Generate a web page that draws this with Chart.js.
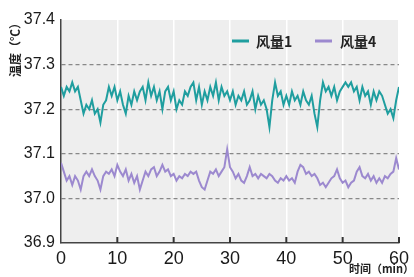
<!DOCTYPE html>
<html><head><meta charset="utf-8">
<script src="https://cdn.jsdelivr.net/npm/chart.js@4/dist/chart.umd.min.js"></script>
<style>html,body{margin:0;padding:0;background:#fff;}#wrap{width:414px;height:277px;position:relative;}</style>
</head><body><div id="wrap"><canvas id="c" width="414" height="277"></canvas></div>
<script>
const times = [];
for (let i = 0; i <= 120; i++) times.push(i / 2);
const seriesNames = ["风量1", "风量4"];
const flow1 = [37.25,37.23,37.25,37.24,37.26,37.24,37.25,37.22,37.19,37.21,37.20,37.22,37.19,37.20,37.17,37.21,37.22,37.25,37.23,37.25,
37.22,37.24,37.21,37.19,37.23,37.21,37.24,37.22,37.24,37.25,37.22,37.26,37.23,37.25,37.22,37.24,37.20,37.24,37.25,37.22,
37.24,37.20,37.22,37.21,37.24,37.23,37.25,37.26,37.22,37.25,37.21,37.24,37.22,37.25,37.23,37.26,37.22,37.25,37.23,37.24,
37.22,37.24,37.21,37.23,37.22,37.24,37.21,37.22,37.24,37.20,37.23,37.21,37.22,37.20,37.16,37.22,37.26,37.23,37.24,37.21,
37.23,37.21,37.24,37.22,37.23,37.21,37.24,37.22,37.21,37.23,37.19,37.16,37.22,37.26,37.24,37.25,37.23,37.25,37.22,37.24,
37.25,37.26,37.25,37.26,37.24,37.25,37.22,37.25,37.23,37.24,37.21,37.24,37.22,37.24,37.23,37.21,37.19,37.20,37.18,37.22,37.25];
const flow4 = [37.08,37.06,37.04,37.05,37.03,37.05,37.04,37.02,37.05,37.06,37.05,37.065,37.05,37.04,37.02,37.05,37.06,37.055,37.065,37.05,
37.075,37.06,37.05,37.065,37.04,37.055,37.035,37.05,37.02,37.04,37.06,37.05,37.065,37.07,37.05,37.06,37.075,37.06,37.065,37.05,
37.055,37.04,37.05,37.045,37.055,37.05,37.06,37.055,37.06,37.04,37.025,37.02,37.04,37.06,37.055,37.065,37.05,37.06,37.07,37.11,
37.07,37.06,37.045,37.055,37.04,37.035,37.05,37.07,37.05,37.055,37.045,37.055,37.05,37.045,37.055,37.05,37.04,37.035,37.045,37.04,
37.05,37.04,37.045,37.035,37.06,37.075,37.07,37.055,37.06,37.05,37.055,37.045,37.03,37.035,37.025,37.035,37.045,37.05,37.065,37.045,
37.035,37.04,37.025,37.035,37.04,37.06,37.07,37.05,37.045,37.055,37.04,37.05,37.035,37.045,37.035,37.05,37.045,37.055,37.06,37.09,37.065];
const xTicks = [0, 10, 20, 30, 40, 50, 60];
const yTicks = [36.9, 37.0, 37.1, 37.2, 37.3, 37.4];
const yTitle = "温度（℃）";
const xTitle = "时间（min）";
const colors = ["#1f9e9f", "#9c89cf"];

const numFont = "'Liberation Sans Narrow','Liberation Sans','DejaVu Sans Condensed',sans-serif";
const cjkFont = "'Noto Sans CJK SC','Noto Sans',sans-serif";

const deco = {
  id: 'deco',
  beforeDraw(chart) {
    const a = chart.chartArea, c = chart.ctx;
    c.save(); c.fillStyle = '#eeeeee';
    c.fillRect(a.left, a.top, a.right - a.left, a.bottom - a.top);
    c.restore();
  },
  afterDraw(chart) {
    const a = chart.chartArea, c = chart.ctx, xs = chart.scales.x;
    c.save();
    c.strokeStyle = '#333'; c.lineWidth = 2;
    xTicks.forEach(v => {
      if (v === 0) return;
      const px = xs.getPixelForValue(v);
      c.beginPath(); c.moveTo(px, a.bottom); c.lineTo(px, a.bottom - 6); c.stroke();
    });
    c.font = "bold 14px " + cjkFont; c.textBaseline = 'middle'; c.textAlign = 'left';
    const ly = a.top + 21;
    const entries = [[232, 256], [315, 340]];
    chart.data.datasets.forEach((ds, i) => {
      c.strokeStyle = ds.borderColor; c.lineWidth = 3;
      c.beginPath(); c.moveTo(entries[i][0], ly); c.lineTo(entries[i][0] + 17, ly); c.stroke();
      c.fillStyle = '#222'; c.fillText(ds.label, entries[i][1], ly + 1);
    });
    c.font = "bold 11px " + cjkFont; c.fillStyle = '#222';
    c.textAlign = 'right'; c.textBaseline = 'middle';
    c.fillText(xTitle, 414, 269);
    c.translate(15, 47); c.rotate(-Math.PI / 2);
    c.textAlign = 'center'; c.font = "bold 12px " + cjkFont;
    c.fillText(yTitle, 0, 0);
    c.restore();
  }
};

new Chart(document.getElementById('c'), {
  type: 'line',
  data: {
    datasets: [
      { label: seriesNames[0], data: times.map((t, i) => ({ x: t, y: flow1[i] })), borderColor: colors[0], borderWidth: 2, pointRadius: 0, tension: 0 },
      { label: seriesNames[1], data: times.map((t, i) => ({ x: t, y: flow4[i] })), borderColor: colors[1], borderWidth: 2, pointRadius: 0, tension: 0 }
    ]
  },
  options: {
    responsive: false, animation: false, devicePixelRatio: 1,
    layout: { padding: { top: 20, right: 11, left: 0, bottom: 0 } },
    plugins: { legend: { display: false }, tooltip: { enabled: false } },
    scales: {
      x: {
        type: 'linear', min: 0, max: 60,
        afterBuildTicks: s => { s.ticks = xTicks.map(v => ({ value: v })); },
        afterFit: s => { s.height = 34; },
        grid: { color: ctx => ctx.index === 0 ? 'rgba(0,0,0,0)' : '#ffffff', lineWidth: 1.5, drawTicks: false },
        border: { color: '#444', width: 1.5 },
        ticks: { padding: 5, color: '#1a1a1a', font: { family: numFont, size: 18 }, maxRotation: 0, autoSkip: false }
      },
      y: {
        min: 36.9, max: 37.4,
        afterBuildTicks: s => { s.ticks = yTicks.map(v => ({ value: v })); },
        afterFit: s => { s.width = 61; },
        grid: { color: ctx => (ctx.index === 0 || ctx.index === yTicks.length - 1) ? 'rgba(0,0,0,0)' : '#888888', lineWidth: 1.3, drawTicks: false },
        border: { color: '#444', width: 1.5, dash: [4, 3] },
        ticks: { padding: 6, color: '#1a1a1a', font: { family: numFont, size: 16 }, callback: v => v.toFixed(1) }
      }
    }
  },
  plugins: [deco]
});
</script></body></html>
